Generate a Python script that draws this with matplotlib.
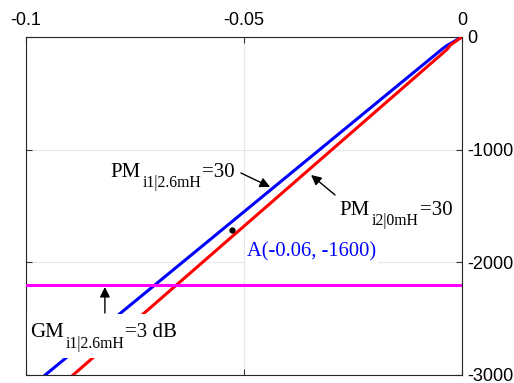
import numpy as np
import matplotlib.pyplot as plt
from matplotlib.patches import Rectangle
from matplotlib.transforms import Bbox

plt.rcParams['font.family'] = 'Liberation Sans'

# locus curves
x_i1 = [-0.0956, -0.0045, -0.0034, 0.0]
y_i1 = [-3000, -106, -75, 0]
x_i2 = [-0.0892, -0.0034, -0.0026, 0.0]
y_i2 = [-3000, -110, -70, 0]
gm_level = -2200
pt_a = (-0.0528, -1710)

xticks = [-0.1, -0.05, 0]
xlabels = ['-0.1', '-0.05', '0']
yticks = [0, -1000, -2000, -3000]
ylabels = ['0', '-1000', '-2000', '-3000']

fig = plt.figure(figsize=(5.14, 3.83), dpi=100)
ax = fig.add_axes([0.0506, 0.0209, 0.848, 0.8825])

ax.plot(x_i1, y_i1, color='blue', lw=2.2, zorder=3)
ax.plot(x_i2, y_i2, color='red', lw=2.2, zorder=3)
ax.axhline(gm_level, color='magenta', lw=2.2, zorder=3)
ax.plot(*pt_a, 'o', color='black', ms=3.5, zorder=6)

ax.set_xlim(-0.1, 0)
ax.set_ylim(-3000, 0)
ax.xaxis.tick_top()
ax.yaxis.tick_right()
ax.set_xticks(xticks, xlabels)
ax.set_yticks(yticks, ylabels)
ax.tick_params(direction='in', labelsize=13, top=True, bottom=True,
               left=True, right=True, length=4, color='#333333', pad=6)
ax.tick_params(axis='y', pad=4)
ax.grid(True, color='#e6e6e6', lw=0.8)
for s in ax.spines.values():
    s.set_color('#262626')
    s.set_linewidth(0.8)

renderer = fig.canvas.get_renderer()
serif = 'Liberation Serif'


def sub_label(x, y, main, sub, tail, mask=False):
    # main text, dropped subscript, then the rest, placed one after another
    t1 = ax.text(x, y, main, fontsize=15, family=serif, va='baseline',
                 zorder=5)
    w1 = t1.get_window_extent(renderer).width * 0.72 + 1.5
    t2 = ax.annotate(sub, xy=(x, y), xytext=(w1, -7.5),
                     textcoords='offset points', fontsize=11.3,
                     family=serif, va='baseline', zorder=5)
    w2 = t2.get_window_extent(renderer).width * 0.72 + 0.5
    t3 = ax.annotate(tail, xy=(x, y), xytext=(w1 + w2, 0),
                     textcoords='offset points', fontsize=15,
                     family=serif, va='baseline', zorder=5)
    if mask:
        bb = Bbox.union([t.get_window_extent(renderer) for t in (t1, t2, t3)])
        ax.add_artist(Rectangle((bb.x0 - 3, bb.y0 - 6), bb.width + 6,
                                bb.height + 15, transform=None,
                                fc='white', ec='none', zorder=4))


def arrow(head, tail):
    ax.annotate('', xy=head, xytext=tail,
                arrowprops=dict(arrowstyle='-|>', color='black', lw=1,
                                mutation_scale=15, shrinkA=0, shrinkB=0),
                zorder=5)


sub_label(-0.0807, -1242, 'PM', 'i1|2.6mH', '=30')
arrow((-0.0440, -1331), (-0.0507, -1207))

sub_label(-0.0280, -1580, 'PM', 'i2|0mH', '=30')
arrow((-0.0346, -1225), (-0.0291, -1402))

sub_label(-0.0991, -2664, 'GM', 'i1|2.6mH', '=3 dB', mask=True)
arrow((-0.0819, -2219), (-0.0819, -2450))

ax.text(-0.0493, -1952, 'A(-0.06, -1600)', color='blue', fontsize=14.8,
        family=serif, ha='left', va='baseline', zorder=5,
        bbox=dict(boxstyle='square,pad=0.1', fc='white', ec='none'))

fig.savefig('out.png', dpi=100)
